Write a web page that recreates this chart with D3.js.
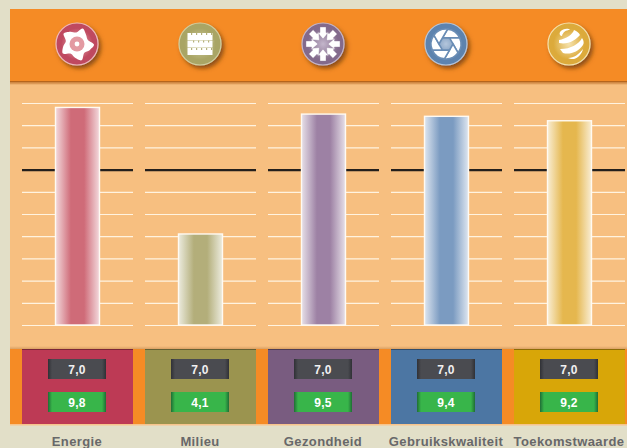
<!DOCTYPE html>
<html>
<head>
<meta charset="utf-8">
<script src="https://cdn.jsdelivr.net/npm/d3@7"></script>
<style>
    html, body { margin: 0; padding: 0; background: #e2dfc8; overflow: hidden; }
    svg { display: block; }
    text { font-family: "Liberation Sans", Arial, sans-serif; font-weight: bold; }
</style>
</head>
<body>
<div id="chart"></div>
<script>
const categories = ["Energie", "Milieu", "Gezondheid", "Gebruikskwaliteit", "Toekomstwaarde"];
const scores = [9.8, 4.1, 9.5, 9.4, 9.2];
const norms = [7.0, 7.0, 7.0, 7.0, 7.0];
const gridTicks = [0, 1, 2, 3, 4, 5, 6, 7, 8, 9, 10];
const normTick = 7;

const blockColors = ["#bd3a55", "#9b944f", "#795c80", "#4c76a3", "#d8a608"];
const barColors = ["#cf6b78", "#b3ae7a", "#9d81a4", "#7b9bc1", "#e5b74e"];
const iconEdge = ["#bf4a60", "#a9a565", "#836a8c", "#5d83ae", "#dcaa3a"];
const iconMid = ["#eeb9bd", "#d2cfa2", "#c4b6cb", "#b4c6dc", "#f5e2ad"];

const dims = {width: 627, height: 448};
const layout = {
    left: 10, top: 9, headH: 72, panelTop: 82, panelBottom: 349,
    blockBottom: 424, iconY: 44, iconR: 21, barW: 44, labelY: 446
};

const svg = d3.select("#chart")
    .append("svg")
    .attr("width", dims.width)
    .attr("height", dims.height);

const x = d3.scaleBand()
    .domain(categories)
    .range([22, 625])
    .paddingInner(12 / 123);

const y = d3.scaleLinear()
    .domain([0, 10])
    .range([325, 103]);

const defs = svg.append("defs");

const shadow = defs.append("filter")
    .attr("id", "icon-shadow")
    .attr("x", "-30%").attr("y", "-30%")
    .attr("width", "170%").attr("height", "170%");
shadow.append("feDropShadow")
    .attr("dx", 2.5).attr("dy", 3)
    .attr("stdDeviation", 2)
    .attr("flood-color", "#6b3a0c")
    .attr("flood-opacity", 0.75);

const vertical = (id, stops) => {
    const g = defs.append("linearGradient")
        .attr("id", id)
        .attr("x1", 0).attr("x2", 0).attr("y1", 0).attr("y2", 1);
    stops.forEach(s => g.append("stop").attr("offset", s[0]).attr("stop-color", s[1]));
};
const horizontal = (id, stops) => {
    const g = defs.append("linearGradient").attr("id", id);
    stops.forEach(s => g.append("stop").attr("offset", s[0]).attr("stop-color", s[1]));
};

vertical("panel-top", [[0, "#c97f3a"], [1, "#f7bf80"]]);
vertical("panel-bottom", [[0, "#f7bf80"], [1, "#d9a064"]]);
horizontal("dark-box", [[0, "#303136"], [0.07, "#4a4b50"], [0.93, "#4a4b50"], [1, "#303136"]]);
horizontal("green-box", [[0, "#1f6e35"], [0.07, "#38b54a"], [0.93, "#38b54a"], [1, "#1f6e35"]]);

categories.forEach((c, i) => {
    const pale = d3.interpolateRgb(barColors[i], "#ffffff")(0.75);
    horizontal(`bar-${i}`, [
        [0, pale], [0.35, barColors[i]], [0.65, barColors[i]], [1, pale]
    ]);
    const r = defs.append("radialGradient").attr("id", `icon-${i}`);
    r.append("stop").attr("offset", 0).attr("stop-color", iconMid[i]);
    r.append("stop").attr("offset", 0.75).attr("stop-color", iconEdge[i]);
    r.append("stop").attr("offset", 1).attr("stop-color", iconEdge[i]);
});

// background bands
svg.append("rect")
    .attr("x", layout.left).attr("y", layout.top)
    .attr("width", dims.width - layout.left).attr("height", layout.headH)
    .attr("fill", "#f58b25");
svg.append("rect")
    .attr("x", layout.left).attr("y", layout.top + layout.headH)
    .attr("width", dims.width - layout.left).attr("height", layout.panelBottom - layout.top - layout.headH)
    .attr("fill", "#f7bf80");
svg.append("rect")
    .attr("x", layout.left).attr("y", 81)
    .attr("width", dims.width - layout.left).attr("height", 1.5)
    .attr("fill", "#b5651d");
svg.append("rect")
    .attr("x", layout.left).attr("y", 82.5)
    .attr("width", dims.width - layout.left).attr("height", 2.5)
    .attr("fill", "url(#panel-top)");
svg.append("rect")
    .attr("x", layout.left).attr("y", 346)
    .attr("width", dims.width - layout.left).attr("height", 3)
    .attr("fill", "url(#panel-bottom)");
svg.append("rect")
    .attr("x", layout.left).attr("y", layout.panelBottom)
    .attr("width", dims.width - layout.left).attr("height", layout.blockBottom - layout.panelBottom)
    .attr("fill", "#f58b25");
svg.append("rect")
    .attr("x", layout.left).attr("y", layout.blockBottom)
    .attr("width", dims.width - layout.left).attr("height", 1.5)
    .attr("fill", "#f7c48c");

// grid per column, built from an axis
categories.forEach(c => {
    const grid = svg.append("g")
        .attr("transform", `translate(${x(c)},0)`)
        .call(d3.axisRight(y).tickValues(gridTicks).tickSize(x.bandwidth()).tickFormat(""));
    grid.select(".domain").remove();
    grid.selectAll(".tick line")
        .attr("stroke", d => d === normTick ? "#231f1c" : "#fff3e0")
        .attr("stroke-width", d => d === normTick ? 2.4 : 1.2);
});

// bars
svg.selectAll(".bar")
    .data(categories)
    .join("rect")
    .attr("class", "bar")
    .attr("x", c => x(c) + (x.bandwidth() - layout.barW) / 2)
    .attr("y", (c, i) => y(scores[i]))
    .attr("width", layout.barW)
    .attr("height", (c, i) => y(0) - y(scores[i]))
    .attr("fill", (c, i) => `url(#bar-${i})`)
    .attr("stroke", "#fffaf2")
    .attr("stroke-width", 1.4);

// score blocks
svg.selectAll(".block")
    .data(categories)
    .join("rect")
    .attr("class", "block")
    .attr("x", c => x(c))
    .attr("y", layout.panelBottom)
    .attr("width", x.bandwidth())
    .attr("height", layout.blockBottom - layout.panelBottom)
    .attr("fill", (c, i) => blockColors[i]);
svg.selectAll(".block-top")
    .data(categories)
    .join("rect")
    .attr("class", "block-top")
    .attr("x", c => x(c))
    .attr("y", layout.panelBottom)
    .attr("width", x.bandwidth())
    .attr("height", 1)
    .attr("fill", "#000")
    .attr("opacity", 0.35);

const valueBox = (values, top, fill, color) => {
    const g = svg.append("g");
    const boxX = c => x(c) + x.bandwidth() / 2 - 29.5;
    g.selectAll("rect")
        .data(categories)
        .join("rect")
        .attr("x", boxX)
        .attr("y", top)
        .attr("width", 58)
        .attr("height", 20)
        .attr("fill", fill);
    g.selectAll("text")
        .data(categories)
        .join("text")
        .attr("x", c => x(c) + x.bandwidth() / 2 - 0.5)
        .attr("y", top + 15)
        .attr("text-anchor", "middle")
        .attr("font-size", 12)
        .attr("letter-spacing", 0.3)
        .attr("fill", color)
        .text((c, i) => values[i].toFixed(1).replace(".", ","));
};
valueBox(norms, 359, "url(#dark-box)", "#f1f1f1");
valueBox(scores, 392, "url(#green-box)", "#ffffff");

// category labels
svg.selectAll(".label")
    .data(categories)
    .join("text")
    .attr("class", "label")
    .attr("x", c => x(c) + x.bandwidth() / 2 - 0.5)
    .attr("y", layout.labelY)
    .attr("text-anchor", "middle")
    .attr("font-size", 13)
    .attr("letter-spacing", 0.4)
    .attr("fill", "#68686a")
    .text(c => c);

// round icons in the header
const icons = svg.selectAll(".icon")
    .data(categories)
    .join("g")
    .attr("class", "icon")
    .attr("transform", c => `translate(${x(c) + x.bandwidth() / 2 - 0.5},${layout.iconY})`);

icons.append("circle")
    .attr("r", layout.iconR)
    .attr("fill", (c, i) => `url(#icon-${i})`)
    .attr("stroke", (c, i) => iconMid[i])
    .attr("stroke-width", 1.2)
    .attr("filter", "url(#icon-shadow)");

const rotated = (g, count, draw) => {
    d3.range(count).forEach(k => draw(g.append("g").attr("transform", `rotate(${k * 360 / count})`)));
};

// Energie: lobed ring, pinwheel shaped
const flower = icons.filter((c, i) => i === 0);
const blobRadii = [16.5, 13, 11.5, 17, 14, 11.5, 17, 14, 11.5, 17, 14, 11.5, 17, 14, 11.5];
const blob = d3.lineRadial()
    .angle((r, k) => k * 2 * Math.PI / blobRadii.length + 0.35)
    .radius(r => r)
    .curve(d3.curveCatmullRomClosed);
flower.append("path").attr("d", blob(blobRadii)).attr("fill", "#fff");
flower.append("circle").attr("r", 7.5).attr("fill", "#e39aa2");
flower.append("circle").attr("r", 2.4).attr("fill", "#fff");

// Milieu: brick wall
const wall = icons.filter((c, i) => i === 1);
const brickRows = [-11, -3.5, 4];
brickRows.forEach((top, r) => {
    wall.append("rect").attr("x", -12.5).attr("y", top).attr("width", 25).attr("height", 7).attr("fill", "#fff");
    d3.range(-9, 12, 5).forEach(bx => {
        wall.append("rect")
            .attr("x", bx + (r % 2 ? 2 : 0)).attr("y", top)
            .attr("width", 1.2).attr("height", 2)
            .attr("fill", "#b5b17b");
    });
});

// Gezondheid: eight arrows pointing at the centre
rotated(icons.filter((c, i) => i === 2), 8, g => g.append("path")
    .attr("d", "M-3,-17 L3,-17 L3,-11.5 L5.5,-11.5 L0,-5 L-5.5,-11.5 L-3,-11.5 Z")
    .attr("fill", "#fff")
    .attr("stroke", "#8f7a99")
    .attr("stroke-width", 0.4));

// Gebruikskwaliteit: camera shutter
rotated(icons.filter((c, i) => i === 3), 6, g => g.append("path")
    .attr("d", "M-3.5,-6.1 L13.7,-6.1 A15,15 0 0 0 1.6,-14.9 Z")
    .attr("fill", "#fff")
    .attr("stroke", "#6a8db5")
    .attr("stroke-width", 1.6));

// Toekomstwaarde: striped sphere
const sphere = icons.filter((c, i) => i === 4);
["M-9,-12 C-6,-16 0,-16 1,-14 C-3,-14 -6,-12 -7,-8 C-9,-8 -10,-10 -9,-12 Z",
 "M-10,-4 C-3,-5 4,-10 5,-14 C8,-13 10,-11 11,-9 C7,-4 -1,1 -10,-1 Z",
 "M-9,5 C2,5 10,0 13,-6 C15,-3 15,-1 14,1 C9,8 1,11 -6,9 Z",
 "M-1,14 C5,14 10,10 14,5 C13,10 9,14 5,15 C3,15 1,15 -1,14 Z"
].forEach(d => sphere.append("path").attr("d", d).attr("fill", "#fff"));
</script>
</body>
</html>
